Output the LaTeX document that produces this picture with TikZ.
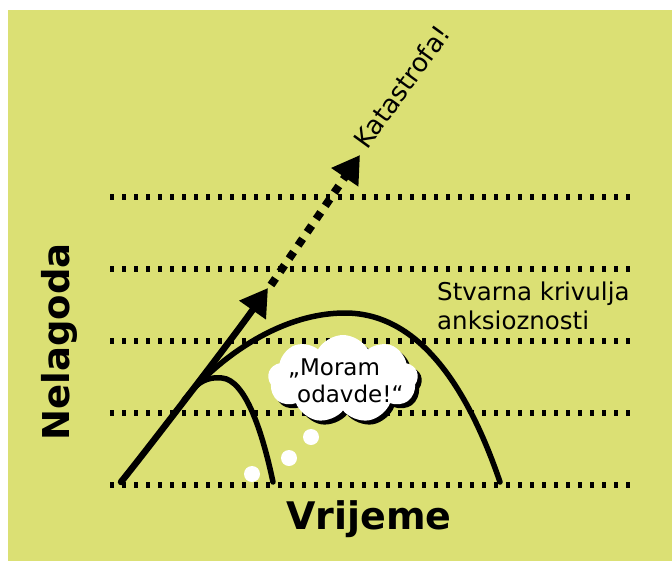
\documentclass[tikz,border=0pt]{standalone}
\usepackage{fontspec}
\setmainfont{DejaVu Sans}
\usetikzlibrary{arrows.meta,shapes.symbols,shadows}
\definecolor{bgyellow}{RGB}{219,224,116}
\begin{document}
\begin{tikzpicture}[x=1pt,y=-1pt,
  gridline/.style={line width=6pt, dash pattern=on 4pt off 8pt},
  curveline/.style={line width=5.5pt, line cap=round},
  bigtip/.style={-{Triangle[length=27pt,width=31pt]}},
  puff/.style={circle, fill=white, minimum size=16pt, inner sep=0pt},
  lbl/.style={font=\fontsize{24.5}{29}\selectfont, inner sep=0pt},
  axislbl/.style={inner sep=0pt}]
\useasboundingbox (0,0) rectangle (672,563);
\fill[bgyellow] (8,10) rectangle (672,561);
% dotted grid lines
\foreach \yy in {197,269,341,413,485}
  \draw[gridline] (110,\yy) -- (634,\yy);
% arrow
\draw[line width=6.5pt, line cap=round, bigtip] (121,482) .. controls (150,446) and (235,335) .. (268,288);
\draw[line width=8pt, dash pattern=on 8pt off 8pt, bigtip] (271,285) -- (360,155);
% curves branching from the arrow
\draw[curveline] (184,400) .. controls (212,365) and (275,313) .. (345,313)
   .. controls (425,313) and (472,400) .. (500,482);
\draw[curveline] (193,389) .. controls (202,379) and (212,377) .. (222,378)
   .. controls (245,380) and (262,430) .. (273,482);
% thought bubble
\node[cloud, cloud puffs=9, cloud puff arc=120, aspect=1.6, fill=white,
  minimum width=150pt, minimum height=88pt, inner sep=0pt,
  drop shadow={shadow xshift=4pt, shadow yshift=-4pt, fill=black, opacity=1}] (think) at (343,379) {};
\node[align=left, inner sep=0pt, anchor=base west, font=\fontsize{23}{27}\selectfont] (thinktext) at (288,402) {„Moram\\\hspace*{9pt}odavde!“};
\node[puff] (p1) at (311,437) {};
\node[puff] (p2) at (289,458) {};
\node[puff] (p3) at (252,474) {};
% labels
\node[lbl, font=\fontsize{26}{30}\selectfont, rotate=54, anchor=base west] (kat) at (367,151) {Katastrofa!};
\node[lbl, align=left, anchor=base west] (curve) at (437,329) {Stvarna krivulja\\anksioznosti};
\node[axislbl, font=\fontsize{37}{44}\selectfont\bfseries, rotate=90, anchor=base] (ylab) at (69,342) {Nelagoda};
\node[axislbl, font=\fontsize{38}{44}\selectfont\bfseries, anchor=base] (xlab) at (369,529) {Vrijeme};
\end{tikzpicture}
\end{document}
